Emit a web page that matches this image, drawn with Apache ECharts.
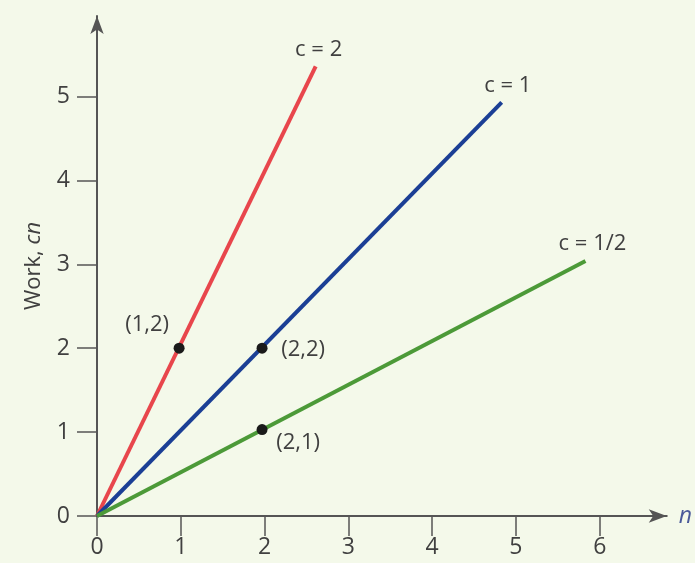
<!DOCTYPE html>
<html><head><meta charset="utf-8">
<script src="https://cdn.jsdelivr.net/npm/echarts@6/dist/echarts.min.js"></script>
<style>html,body{margin:0;padding:0;background:#f4f9ea}#c{width:695px;height:563px}</style>
</head><body><div id="c"></div>
<script>
const xTicks = [0, 1, 2, 3, 4, 5, 6];
const yTicks = [0, 1, 2, 3, 4, 5];
const lineNames = ['c = 2', 'c = 1', 'c = 1/2'];
const lineC2 = [[0, 0], [2.61, 5.36]];
const lineC1 = [[0, 0], [4.83, 4.93]];
const lineCHalf = [[0, 0], [5.83, 3.04]];
const pointLabels = ['(1,2)', '(2,2)', '(2,1)'];
const points = [[0.98, 2.0], [1.97, 2.0], [1.97, 1.03]];

const FONT = '"Open Sans", sans-serif';
const TXT = '#404040';
const AX = '#555';
const colors = ['#e8464c', '#1b3f95', '#4c9a38'];
const lines = [lineC2, lineC1, lineCHalf];
const endOffsets = [[3, -17], [6, -17], [7, -17]];
const ptOffsets = [[-32, -23], [41, 2], [36, 13]];
const labelStyle = {show: true, position: 'inside', color: TXT, fontSize: 22, fontFamily: FONT, textBorderWidth: 0, opacity: 1};

const chart = echarts.init(document.getElementById('c'), null, {renderer: 'canvas'});
const series = [];
lines.forEach((d, i) => {
  series.push({
    type: 'line', data: d, symbol: 'none', animation: false, silent: true,
    lineStyle: {color: colors[i], width: 4}, z: 2
  });
});
series.push({
  type: 'scatter', symbolSize: 0, animation: false, silent: true, z: 3,
  itemStyle: {opacity: 1},
  data: lines.map((d, i) => ({
    value: d[d.length - 1],
    label: Object.assign({}, labelStyle, {formatter: lineNames[i], offset: endOffsets[i]})
  }))
});
series.push({
  type: 'scatter', symbol: 'circle', symbolSize: 11, animation: false, silent: true, z: 4,
  itemStyle: {color: '#1a1a1a', opacity: 1},
  data: points.map((p, i) => ({
    value: p,
    label: Object.assign({}, labelStyle, {formatter: pointLabels[i], offset: ptOffsets[i]})
  }))
});

chart.setOption({
  backgroundColor: '#f4f9ea',
  animation: false,
  grid: {left: 97, right: 28, top: 16, bottom: 47},
  xAxis: {
    type: 'value', min: 0, max: 6.80,
    name: 'n', nameLocation: 'end', nameGap: 12,
    nameTextStyle: {fontStyle: 'italic', fontSize: 23, color: '#4a5a9a', fontFamily: FONT},
    axisLine: {show: true, symbol: ['none', 'arrow'], symbolSize: [10, 18], lineStyle: {color: AX, width: 2}},
    axisTick: {show: true, customValues: xTicks, length: 20, lineStyle: {color: AX, width: 1.5}},
    axisLabel: {customValues: xTicks, margin: 20, fontSize: 23, color: TXT, fontFamily: FONT},
    splitLine: {show: false}
  },
  yAxis: {
    type: 'value', min: 0, max: 5.96,
    name: 'Work, {i|cn}', nameLocation: 'middle', nameGap: 52,
    nameTextStyle: {fontSize: 22, color: TXT, fontFamily: FONT, rich: {i: {fontStyle: 'italic', fontSize: 22, color: TXT, fontFamily: FONT}}},
    axisLine: {show: true, symbol: ['none', 'arrow'], symbolSize: [10, 18], lineStyle: {color: AX, width: 2}},
    axisTick: {show: true, customValues: yTicks, length: 20, lineStyle: {color: AX, width: 1.5}},
    axisLabel: {customValues: yTicks, margin: 27, fontSize: 23, color: TXT, fontFamily: FONT},
    splitLine: {show: false}
  },
  series: series
});
</script></body></html>
